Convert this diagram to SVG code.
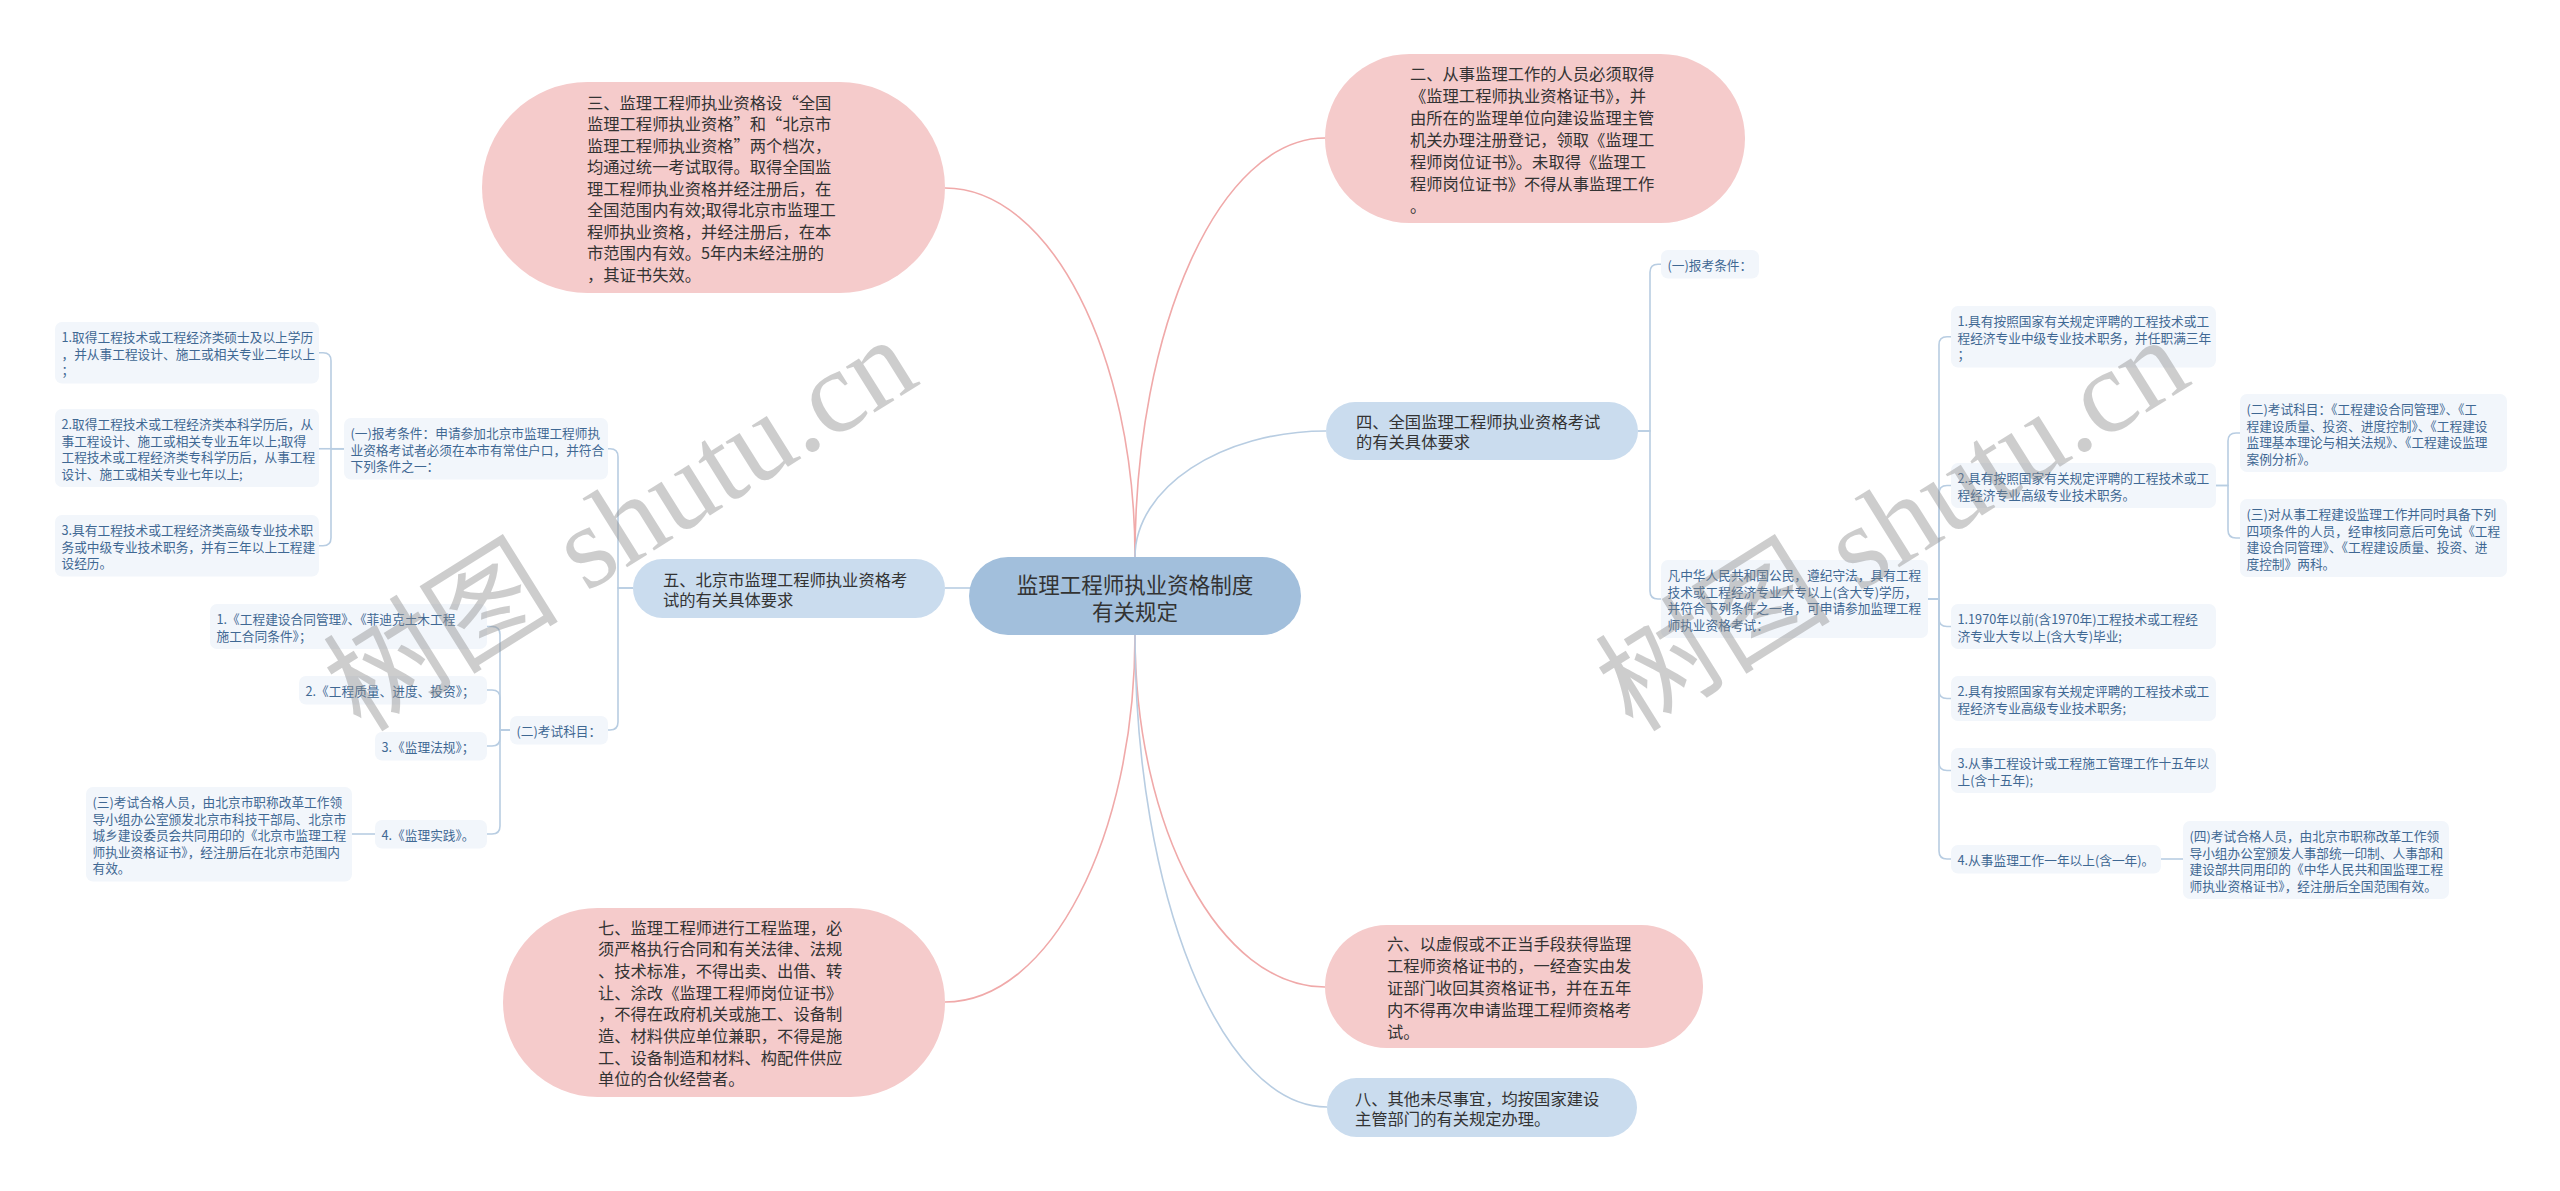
<svg xmlns="http://www.w3.org/2000/svg" width="2560" height="1191" viewBox="0 0 2560 1191">
<style>
text{font-family:"Noto Sans CJK SC","Noto Sans",sans-serif;dominant-baseline:central}
.pink{fill:#f5cbcb}
.blue{fill:#cadcee}
.root{fill:#a2bfdc}
.leaf{fill:#f2f6fb}
.t1{font-size:16.3px;fill:#333}
.t0{font-size:21.5px;fill:#333;text-anchor:middle}
.tl{font-size:12.7px;fill:#3f6893}
.cb{fill:none;stroke:#b8cde2;stroke-width:1.6}
.cp{fill:none;stroke:#f0a9a9;stroke-width:1.6}
.wm{font-family:"Liberation Serif","Noto Sans CJK SC",serif;font-size:118px;fill:#8a8a8a;opacity:0.42}
</style>
<rect width="2560" height="1191" fill="#fff"/>
<g id="connectors">
<path class="cp" d="M1135,557 C1135,354 1050,188 945,188"/>
<path class="cp" d="M1135,557 C1135,326 1220,138 1325,138"/>
<path class="cb" d="M1135,557 C1135,488 1221,431 1326,431"/>
<path class="cp" d="M1135,635 C1135,837 1050,1002 945,1002"/>
<path class="cp" d="M1135,635 C1135,829 1220,987 1325,987"/>
<path class="cb" d="M1135,635 C1135,895 1221,1107 1327,1107"/>
<path class="cb" d="M945,588 H975"/>
<path class="cb" d="M633,588 H618 V456.75 Q618,448.75 610,448.75 H608"/>
<path class="cb" d="M633,588 H618 V722 Q618,730 610,730 H608"/>
<path class="cb" d="M344,448.75 H331 V360.75 Q331,352.75 323,352.75 H319"/>
<path class="cb" d="M344,448.75 H319"/>
<path class="cb" d="M344,448.75 H331 V537.75 Q331,545.75 323,545.75 H319"/>
<path class="cb" d="M510,730 H500 V634.5 Q500,626.5 492,626.5 H487"/>
<path class="cb" d="M510,730 H500 V698 Q500,690 492,690 H487"/>
<path class="cb" d="M510,730 H500 V738 Q500,746 492,746 H487"/>
<path class="cb" d="M510,730 H500 V826 Q500,834 492,834 H487"/>
<path class="cb" d="M375,834 H352"/>
<path class="cb" d="M1638,431 H1650 V272.25 Q1650,264.25 1658,264.25 H1661"/>
<path class="cb" d="M1638,431 H1650 V591 Q1650,599 1658,599 H1661"/>
<path class="cb" d="M1928,599 H1939 V344.75 Q1939,336.75 1947,336.75 H1951"/>
<path class="cb" d="M1928,599 H1939 V493.5 Q1939,485.5 1947,485.5 H1951"/>
<path class="cb" d="M1928,599 H1939 V618.5 Q1939,626.5 1947,626.5 H1951"/>
<path class="cb" d="M1928,599 H1939 V690.5 Q1939,698.5 1947,698.5 H1951"/>
<path class="cb" d="M1928,599 H1939 V762.5 Q1939,770.5 1947,770.5 H1951"/>
<path class="cb" d="M1928,599 H1939 V851 Q1939,859 1947,859 H1951"/>
<path class="cb" d="M2216,485.5 H2228 V441 Q2228,433 2236,433 H2240"/>
<path class="cb" d="M2216,485.5 H2228 V530 Q2228,538 2236,538 H2240"/>
<path class="cb" d="M2161,859 H2183"/>
</g>
<g id="root">
<rect class="root" x="969" y="557" width="332" height="78" rx="39"/>
<text class="t0"><tspan x="1135" y="582.5">监理工程师执业资格制度</tspan><tspan x="1135" y="609.5">有关规定</tspan></text>
</g>
<g id="n3">
<rect class="pink" x="482" y="82" width="463" height="211" rx="105.5"/>
<text class="t1"><tspan x="587" y="101.5">三、监理工程师执业资格设“全国</tspan><tspan x="587" y="123">监理工程师执业资格”和“北京市</tspan><tspan x="587" y="144.5">监理工程师执业资格”两个档次，</tspan><tspan x="587" y="166">均通过统一考试取得。取得全国监</tspan><tspan x="587" y="187.5">理工程师执业资格并经注册后，在</tspan><tspan x="587" y="209">全国范围内有效;取得北京市监理工</tspan><tspan x="587" y="230.5">程师执业资格，并经注册后，在本</tspan><tspan x="587" y="252">市范围内有效。5年内未经注册的</tspan><tspan x="587" y="273.5">，其证书失效。</tspan></text>
</g>
<g id="n2">
<rect class="pink" x="1325" y="54" width="420" height="169" rx="84.5"/>
<text class="t1"><tspan x="1410" y="72.5">二、从事监理工作的人员必须取得</tspan><tspan x="1410" y="94.5">《监理工程师执业资格证书》，并</tspan><tspan x="1410" y="116.5">由所在的监理单位向建设监理主管</tspan><tspan x="1410" y="138.5">机关办理注册登记，领取《监理工</tspan><tspan x="1410" y="160.5">程师岗位证书》。未取得《监理工</tspan><tspan x="1410" y="182.5">程师岗位证书》不得从事监理工作</tspan><tspan x="1410" y="204.5">。</tspan></text>
</g>
<g id="n4">
<rect class="blue" x="1326" y="402" width="312" height="58" rx="29"/>
<text class="t1"><tspan x="1356" y="421">四、全国监理工程师执业资格考试</tspan><tspan x="1356" y="441">的有关具体要求</tspan></text>
</g>
<g id="n5">
<rect class="blue" x="633" y="559" width="312" height="59" rx="29.5"/>
<text class="t1"><tspan x="663" y="578.5">五、北京市监理工程师执业资格考</tspan><tspan x="663" y="598.5">试的有关具体要求</tspan></text>
</g>
<g id="n6">
<rect class="pink" x="1325" y="925" width="378" height="123" rx="61.5"/>
<text class="t1"><tspan x="1387" y="942.5">六、以虚假或不正当手段获得监理</tspan><tspan x="1387" y="964.5">工程师资格证书的，一经查实由发</tspan><tspan x="1387" y="986.5">证部门收回其资格证书，并在五年</tspan><tspan x="1387" y="1008.5">内不得再次申请监理工程师资格考</tspan><tspan x="1387" y="1030.5">试。</tspan></text>
</g>
<g id="n7">
<rect class="pink" x="503" y="908" width="442" height="189" rx="94.5"/>
<text class="t1"><tspan x="598" y="926.6">七、监理工程师进行工程监理，必</tspan><tspan x="598" y="948.3">须严格执行合同和有关法律、法规</tspan><tspan x="598" y="970">、技术标准，不得出卖、出借、转</tspan><tspan x="598" y="991.7">让、涂改《监理工程师岗位证书》</tspan><tspan x="598" y="1013.3">，不得在政府机关或施工、设备制</tspan><tspan x="598" y="1035">造、材料供应单位兼职，不得是施</tspan><tspan x="598" y="1056.7">工、设备制造和材料、构配件供应</tspan><tspan x="598" y="1078.4">单位的合伙经营者。</tspan></text>
</g>
<g id="n8">
<rect class="blue" x="1327" y="1078" width="310" height="59" rx="29.5"/>
<text class="t1"><tspan x="1355" y="1097.5">八、其他未尽事宜，均按国家建设</tspan><tspan x="1355" y="1117.5">主管部门的有关规定办理。</tspan></text>
</g>
<g id="n5-1">
<rect class="leaf" x="344" y="418" width="264" height="61.5" rx="7"/>
<text class="tl"><tspan x="350.5" y="432.25">(一)报考条件：申请参加北京市监理工程师执</tspan><tspan x="350.5" y="448.75">业资格考试者必须在本市有常住户口，并符合</tspan><tspan x="350.5" y="465.25">下列条件之一：</tspan></text>
</g>
<g id="n5-1-1">
<rect class="leaf" x="55" y="322" width="264" height="61.5" rx="7"/>
<text class="tl"><tspan x="61.5" y="336.25">1.取得工程技术或工程经济类硕士及以上学历</tspan><tspan x="61.5" y="352.75">，并从事工程设计、施工或相关专业二年以上</tspan><tspan x="61.5" y="369.25">；</tspan></text>
</g>
<g id="n5-1-2">
<rect class="leaf" x="55" y="409" width="264" height="78" rx="7"/>
<text class="tl"><tspan x="61.5" y="423.25">2.取得工程技术或工程经济类本科学历后，从</tspan><tspan x="61.5" y="439.75">事工程设计、施工或相关专业五年以上;取得</tspan><tspan x="61.5" y="456.25">工程技术或工程经济类专科学历后，从事工程</tspan><tspan x="61.5" y="472.75">设计、施工或相关专业七年以上;</tspan></text>
</g>
<g id="n5-1-3">
<rect class="leaf" x="55" y="515" width="264" height="61.5" rx="7"/>
<text class="tl"><tspan x="61.5" y="529.25">3.具有工程技术或工程经济类高级专业技术职</tspan><tspan x="61.5" y="545.75">务或中级专业技术职务，并有三年以上工程建</tspan><tspan x="61.5" y="562.25">设经历。</tspan></text>
</g>
<g id="n5-2">
<rect class="leaf" x="510" y="716" width="98" height="28.5" rx="7"/>
<text class="tl"><tspan x="516.5" y="730.25">(二)考试科目：</tspan></text>
</g>
<g id="n5-2-1">
<rect class="leaf" x="210" y="604" width="277" height="45" rx="7"/>
<text class="tl"><tspan x="216.5" y="618.25">1.《工程建设合同管理》、《菲迪克土木工程</tspan><tspan x="216.5" y="634.75">施工合同条件》；</tspan></text>
</g>
<g id="n5-2-2">
<rect class="leaf" x="299" y="676" width="188" height="28.5" rx="7"/>
<text class="tl"><tspan x="305.5" y="690.25">2.《工程质量、进度、投资》；</tspan></text>
</g>
<g id="n5-2-3">
<rect class="leaf" x="375" y="732" width="112" height="28.5" rx="7"/>
<text class="tl"><tspan x="381.5" y="746.25">3.《监理法规》；</tspan></text>
</g>
<g id="n5-2-4">
<rect class="leaf" x="375" y="820" width="112" height="28.5" rx="7"/>
<text class="tl"><tspan x="381.5" y="834.25">4.《监理实践》。</tspan></text>
</g>
<g id="n5-2-4-1">
<rect class="leaf" x="86" y="787" width="266" height="94.5" rx="7"/>
<text class="tl"><tspan x="92.5" y="801.25">(三)考试合格人员，由北京市职称改革工作领</tspan><tspan x="92.5" y="817.75">导小组办公室颁发北京市科技干部局、北京市</tspan><tspan x="92.5" y="834.25">城乡建设委员会共同用印的《北京市监理工程</tspan><tspan x="92.5" y="850.75">师执业资格证书》，经注册后在北京市范围内</tspan><tspan x="92.5" y="867.25">有效。</tspan></text>
</g>
<g id="n4-1">
<rect class="leaf" x="1661" y="250" width="98" height="28.5" rx="7"/>
<text class="tl"><tspan x="1667.5" y="264.25">(一)报考条件：</tspan></text>
</g>
<g id="n4-2">
<rect class="leaf" x="1661" y="560" width="267" height="78" rx="7"/>
<text class="tl"><tspan x="1667.5" y="574.25">凡中华人民共和国公民，遵纪守法，具有工程</tspan><tspan x="1667.5" y="590.75">技术或工程经济专业大专以上(含大专)学历，</tspan><tspan x="1667.5" y="607.25">并符合下列条件之一者，可申请参加监理工程</tspan><tspan x="1667.5" y="623.75">师执业资格考试：</tspan></text>
</g>
<g id="n4-2-1">
<rect class="leaf" x="1951" y="306" width="265" height="61.5" rx="7"/>
<text class="tl"><tspan x="1957.5" y="320.25">1.具有按照国家有关规定评聘的工程技术或工</tspan><tspan x="1957.5" y="336.75">程经济专业中级专业技术职务，并任职满三年</tspan><tspan x="1957.5" y="353.25">；</tspan></text>
</g>
<g id="n4-2-2">
<rect class="leaf" x="1951" y="463" width="265" height="45" rx="7"/>
<text class="tl"><tspan x="1957.5" y="477.25">2.具有按照国家有关规定评聘的工程技术或工</tspan><tspan x="1957.5" y="493.75">程经济专业高级专业技术职务。</tspan></text>
</g>
<g id="n4-2-2-1">
<rect class="leaf" x="2240" y="394" width="267" height="78" rx="7"/>
<text class="tl"><tspan x="2246.5" y="408.25">(二)考试科目：《工程建设合同管理》、《工</tspan><tspan x="2246.5" y="424.75">程建设质量、投资、进度控制》、《工程建设</tspan><tspan x="2246.5" y="441.25">监理基本理论与相关法规》、《工程建设监理</tspan><tspan x="2246.5" y="457.75">案例分析》。</tspan></text>
</g>
<g id="n4-2-2-2">
<rect class="leaf" x="2240" y="499" width="267" height="78" rx="7"/>
<text class="tl"><tspan x="2246.5" y="513.25">(三)对从事工程建设监理工作并同时具备下列</tspan><tspan x="2246.5" y="529.75">四项条件的人员，经审核同意后可免试《工程</tspan><tspan x="2246.5" y="546.25">建设合同管理》、《工程建设质量、投资、进</tspan><tspan x="2246.5" y="562.75">度控制》两科。</tspan></text>
</g>
<g id="n4-2-3">
<rect class="leaf" x="1951" y="604" width="265" height="45" rx="7"/>
<text class="tl"><tspan x="1957.5" y="618.25">1.1970年以前(含1970年)工程技术或工程经</tspan><tspan x="1957.5" y="634.75">济专业大专以上(含大专)毕业;</tspan></text>
</g>
<g id="n4-2-4">
<rect class="leaf" x="1951" y="676" width="265" height="45" rx="7"/>
<text class="tl"><tspan x="1957.5" y="690.25">2.具有按照国家有关规定评聘的工程技术或工</tspan><tspan x="1957.5" y="706.75">程经济专业高级专业技术职务;</tspan></text>
</g>
<g id="n4-2-5">
<rect class="leaf" x="1951" y="748" width="265" height="45" rx="7"/>
<text class="tl"><tspan x="1957.5" y="762.25">3.从事工程设计或工程施工管理工作十五年以</tspan><tspan x="1957.5" y="778.75">上(含十五年);</tspan></text>
</g>
<g id="n4-2-6">
<rect class="leaf" x="1951" y="845" width="210" height="28.5" rx="7"/>
<text class="tl"><tspan x="1957.5" y="859.25">4.从事监理工作一年以上(含一年)。</tspan></text>
</g>
<g id="n4-2-6-1">
<rect class="leaf" x="2183" y="821" width="266" height="78" rx="7"/>
<text class="tl"><tspan x="2189.5" y="835.25">(四)考试合格人员，由北京市职称改革工作领</tspan><tspan x="2189.5" y="851.75">导小组办公室颁发人事部统一印制、人事部和</tspan><tspan x="2189.5" y="868.25">建设部共同用印的《中华人民共和国监理工程</tspan><tspan x="2189.5" y="884.75">师执业资格证书》，经注册后全国范围有效。</tspan></text>
</g>
<g id="watermark">
<text class="wm" x="340" y="700" transform="rotate(-32 340 700)">树图 shutu.cn</text>
<text class="wm" x="1612" y="700" transform="rotate(-32 1612 700)">树图 shutu.cn</text>
</g>
</svg>
